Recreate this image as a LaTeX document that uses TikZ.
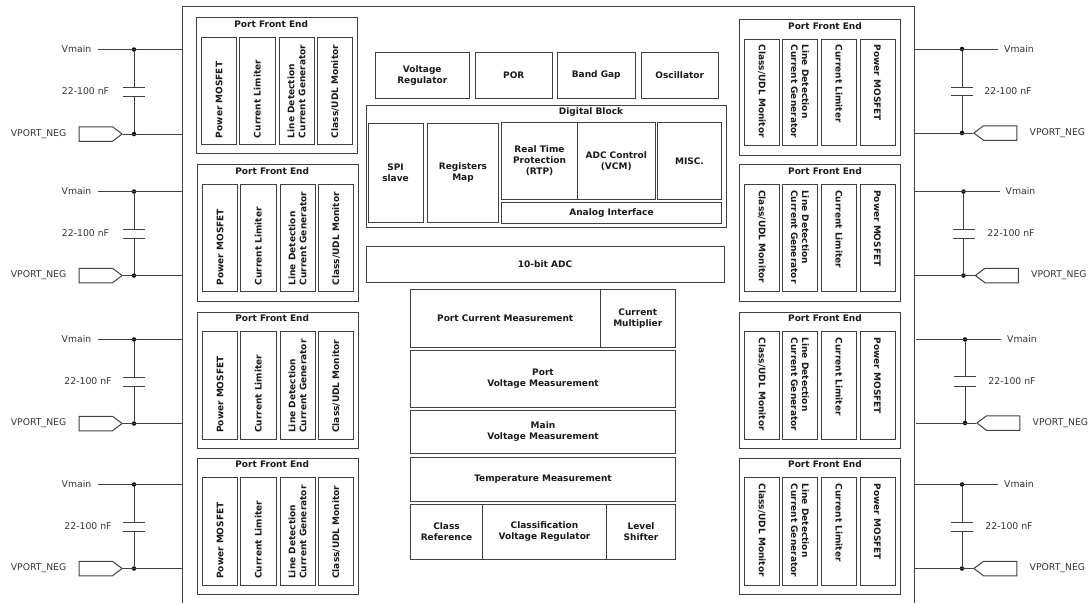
\documentclass[tikz,border=0pt]{standalone}
\usepackage{fontspec}
\setmainfont{DejaVu Sans}
\usetikzlibrary{shapes.symbols}
\definecolor{stroke}{HTML}{404040}
\definecolor{ink}{HTML}{1A1A1A}
\definecolor{soft}{HTML}{333333}
\tikzset{
  blk/.style={draw=stroke,line width=1pt,inner sep=0pt,align=center,text=ink,font=\fontsize{9}{11}\selectfont\bfseries},
  boldlabel/.style={inner sep=0pt,text=ink,font=\fontsize{9}{11}\selectfont\bfseries},
  siglabel/.style={inner sep=0pt,text=soft,font=\fontsize{9.3}{11}\selectfont},
  wire/.style={draw=stroke,line width=1pt},
  junction/.style={circle,fill=black,inner sep=0pt,minimum size=4.5pt},
  pinshape/.style={draw=stroke,line width=1pt,signal,inner sep=0pt,minimum height=14.5pt,minimum width=43pt,signal pointer angle=74}
}
% \blkbox{name}{x1}{y1}{x2}{y2}{text}
\newcommand{\blkbox}[6]{%
  \pgfmathsetmacro{\bcx}{(#2+#4)/2}\pgfmathsetmacro{\bcy}{(#3+#5)/2}%
  \pgfmathsetmacro{\bw}{#4-#2}\pgfmathsetmacro{\bh}{#5-#3}%
  \node[blk,minimum width=\bw pt,minimum height=\bh pt] (#1) at (\bcx,\bcy) {#6};}
\newcommand{\uptext}[1]{\rotatebox{90}{\parbox{95pt}{\raggedright #1}}}
\newcommand{\dntext}[1]{\rotatebox{-90}{\parbox{95pt}{\raggedright #1}}}
% left port front end: id, x1, y1, y2
\newcommand{\pfeleft}[4]{%
  \pgfmathsetmacro{\pr}{#2+161}\pgfmathsetmacro{\pt}{#3+19.5}\pgfmathsetmacro{\pb}{#4-9.5}%
  \pgfmathsetmacro{\pa}{#2+5}\pgfmathsetmacro{\pc}{#2+40}\pgfmathsetmacro{\pd}{#2+43}\pgfmathsetmacro{\pe}{#2+78.5}%
  \pgfmathsetmacro{\pf}{#2+82.5}\pgfmathsetmacro{\pg}{#2+117.5}\pgfmathsetmacro{\ph}{#2+121}\pgfmathsetmacro{\pi}{#2+156}%
  \pgfmathsetmacro{\ptx}{#2+74.7}\pgfmathsetmacro{\pty}{#3+6.5}%
  \blkbox{#1}{#2}{#3}{\pr}{#4}{}%
  \node[boldlabel] (#1t) at (\ptx,\pty) {Port Front End};%
  \blkbox{#1a}{\pa}{\pt}{\pc}{\pb}{\uptext{Power MOSFET}}%
  \blkbox{#1b}{\pd}{\pt}{\pe}{\pb}{\uptext{Current Limiter}}%
  \blkbox{#1c}{\pf}{\pt}{\pg}{\pb}{\uptext{Line Detection\\Current Generator}}%
  \blkbox{#1d}{\ph}{\pt}{\pi}{\pb}{\uptext{Class/UDL Monitor}}}
% right port front end: id, x1, y1, y2
\newcommand{\pferight}[4]{%
  \pgfmathsetmacro{\pr}{#2+160.5}\pgfmathsetmacro{\pt}{#3+19.5}\pgfmathsetmacro{\pb}{#4-9.5}%
  \pgfmathsetmacro{\pa}{#2+5}\pgfmathsetmacro{\pc}{#2+39.5}\pgfmathsetmacro{\pd}{#2+43}\pgfmathsetmacro{\pe}{#2+78}%
  \pgfmathsetmacro{\pf}{#2+82}\pgfmathsetmacro{\pg}{#2+117}\pgfmathsetmacro{\ph}{#2+120.5}\pgfmathsetmacro{\pi}{#2+155.5}%
  \pgfmathsetmacro{\ptx}{#2+85.5}\pgfmathsetmacro{\pty}{#3+6.5}%
  \blkbox{#1}{#2}{#3}{\pr}{#4}{}%
  \node[boldlabel] (#1t) at (\ptx,\pty) {Port Front End};%
  \blkbox{#1a}{\pa}{\pt}{\pc}{\pb}{\dntext{Class/UDL Monitor}}%
  \blkbox{#1b}{\pd}{\pt}{\pe}{\pb}{\dntext{Line Detection\\Current Generator}}%
  \blkbox{#1c}{\pf}{\pt}{\pg}{\pb}{\dntext{Current Limiter}}%
  \blkbox{#1d}{\ph}{\pt}{\pi}{\pb}{\dntext{Power MOSFET}}}
% external network: id, wall x, junction x, yV, cap1, cap2, yNeg, cap label x, side (+1 right, -1 left)
\newcommand{\netw}[9]{%
  \pgfmathsetmacro{\nlab}{#3+#9*36}\pgfmathsetmacro{\pinc}{#3+#9*38.2}%
  \pgfmathsetmacro{\capa}{#3-11}\pgfmathsetmacro{\capb}{#3+11}\pgfmathsetmacro{\capy}{(#5+#6)/2}%
  \pgfmathsetmacro{\nn}{#3+#9*67.5}%
  \coordinate (#1wv) at (#2,#4);\coordinate (#1wn) at (#2,#7);%
  \coordinate (#1ct) at (#3,#5);\coordinate (#1cb) at (#3,#6);%
  \coordinate (#1la) at (\capa,#5);\coordinate (#1lb) at (\capb,#5);%
  \coordinate (#1ma) at (\capa,#6);\coordinate (#1mb) at (\capb,#6);%
  \node[junction] (#1jv) at (#3,#4) {};\node[junction] (#1jn) at (#3,#7) {};%
  \node[siglabel] (#1cap) at (#8,\capy) {22-100 nF};%
  \ifnum#9>0
    \node[siglabel,anchor=west,inner xsep=6pt] (#1v) at (\nlab,#4) {Vmain};%
    \node[siglabel,anchor=west] (#1nl) at (\nn,#7) {VPORT\_NEG};%
    \node[pinshape,signal to=west] (#1p) at (\pinc,#7) {};%
    \draw[wire] (#1v.west) -- (#1wv);\draw[wire] (#1p.west) -- (#1wn);%
  \else
    \node[siglabel,anchor=east,inner xsep=6.5pt] (#1v) at (\nlab,#4) {Vmain};%
    \node[siglabel,anchor=east] (#1nl) at (\nn,#7) {VPORT\_NEG};%
    \node[pinshape,signal to=east] (#1p) at (\pinc,#7) {};%
    \draw[wire] (#1v.east) -- (#1wv);\draw[wire] (#1p.east) -- (#1wn);%
  \fi
  \draw[wire] (#1jv) -- (#1ct);\draw[wire] (#1cb) -- (#1jn);%
  \draw[wire] (#1la) -- (#1lb);\draw[wire] (#1ma) -- (#1mb);}
\begin{document}
\begin{tikzpicture}[x=1pt,y=-1pt]
\useasboundingbox (0,0) rectangle (1088,603);
\coordinate (olb) at (182.5,603);\coordinate (olt) at (182.5,6);
\coordinate (ort) at (914,6);\coordinate (orb) at (914,603);
\draw[wire] (olb) -- (olt) -- (ort) -- (orb);
% left ports
\pfeleft{la}{196.5}{17.5}{153.5}
\pfeleft{lb}{197.5}{164.5}{301}
\pfeleft{lc}{197.5}{312}{448.5}
\pfeleft{ld}{197.5}{458}{594.5}
% right ports
\pferight{ra}{739.5}{19.5}{155}
\pferight{rb}{739.5}{164.5}{301}
\pferight{rc}{739.5}{312}{448.5}
\pferight{rd}{739.5}{458}{594.5}
% networks
\netw{na}{182.5}{134}{49.5}{87}{96}{134}{85.5}{-1}
\netw{nb}{182.5}{134}{191.5}{229}{238}{275.5}{85.5}{-1}
\netw{nc}{182.5}{134}{339.5}{377}{386}{423.5}{88}{-1}
\netw{nd}{182.5}{134}{484.5}{522}{531}{568.5}{88}{-1}
\netw{ne}{914}{962}{49}{87}{95.5}{133}{1008}{1}
\netw{nf}{914}{963.5}{191.5}{229}{238}{275.5}{1011}{1}
\netw{ng}{916}{965}{339.5}{376.5}{386}{423}{1012}{1}
\netw{nh}{914}{962}{484.5}{522}{531}{568.5}{1009}{1}
% top row
\blkbox{vreg}{375.5}{52.5}{469}{98.5}{Voltage\\Regulator}
\blkbox{por}{475}{52}{552.5}{98.5}{POR}
\blkbox{bg}{557.5}{52}{635}{98.5}{Band Gap}
\blkbox{osc}{641}{52}{718.5}{98.5}{Oscillator}
% digital block
\blkbox{dig}{366}{105}{726.5}{227}{}
\node[boldlabel] (digt) at (591,111.7) {Digital Block};
\blkbox{spi}{368}{123}{423}{222.5}{SPI\\slave}
\blkbox{regs}{427.5}{123}{498.5}{222.5}{Registers\\Map}
\blkbox{rtp}{501.5}{122.5}{577.5}{199.5}{Real Time\\Protection\\(RTP)}
\blkbox{adcc}{577.5}{122.5}{655}{199.5}{ADC Control\\(VCM)}
\blkbox{misc}{657.5}{122.5}{721.5}{199.5}{MISC.}
\blkbox{anai}{501.5}{202.5}{721.5}{223}{Analog Interface}
% ADC
\blkbox{adc}{366}{246}{724}{282}{10-bit ADC}
% measurement stack
\blkbox{pcm}{410.5}{289.5}{600}{347.5}{Port Current Measurement}
\blkbox{cmul}{600}{289.5}{675.5}{347.5}{Current\\Multiplier}
\blkbox{pvm}{410.5}{350.5}{675.5}{407.5}{Port\\Voltage Measurement}
\blkbox{mvm}{410.5}{410.5}{675.5}{453.5}{Main\\Voltage Measurement}
\blkbox{tm}{410.5}{457}{675.5}{501}{Temperature Measurement}
\blkbox{cref}{410.5}{504.5}{482.5}{559}{Class\\Reference}
\blkbox{cvr}{482.5}{504.5}{606.5}{559}{Classification\\Voltage Regulator}
\blkbox{lsh}{606.5}{504.5}{675.5}{559}{Level\\Shifter}
\end{tikzpicture}
\end{document}
